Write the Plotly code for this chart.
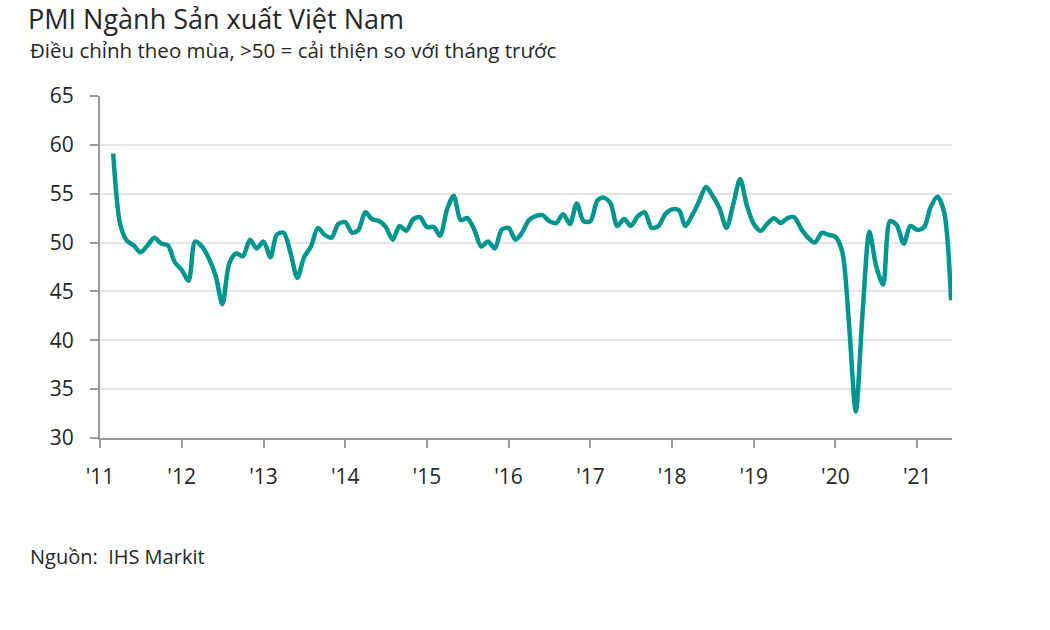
import plotly.graph_objects as go
import pandas as pd

# Monthly PMI values, Mar 2011 - Jun 2021
pmi_2011 = [59.1, 51.9, 50.2, 49.7, 49.0, 49.7, 50.5, 49.9, 49.7, 48.0]  # Mar-Dec
pmi_2012 = [47.2, 46.1, 50.1, 49.6, 48.4, 46.6, 43.7, 47.9, 48.9, 48.6, 50.3, 49.4]
pmi_2013 = [50.1, 48.5, 50.8, 51.0, 49.0, 46.4, 48.5, 49.6, 51.5, 50.8, 50.5, 51.9]
pmi_2014 = [52.1, 51.0, 51.3, 53.1, 52.4, 52.2, 51.6, 50.3, 51.7, 51.2, 52.4, 52.6]
pmi_2015 = [51.6, 51.6, 50.7, 53.4, 54.8, 52.3, 52.5, 51.3, 49.6, 50.1, 49.4, 51.3]
pmi_2016 = [51.5, 50.3, 51.0, 52.3, 52.7, 52.8, 52.2, 52.0, 52.9, 51.9, 54.0, 52.2]
pmi_2017 = [52.2, 54.3, 54.6, 54.0, 51.7, 52.4, 51.7, 52.7, 53.1, 51.5, 51.7, 52.9]
pmi_2018 = [53.4, 53.3, 51.7, 52.8, 54.2, 55.7, 54.8, 53.5, 51.5, 53.9, 56.5, 53.8]
pmi_2019 = [51.9, 51.2, 51.9, 52.5, 52.0, 52.5, 52.6, 51.4, 50.5, 50.0, 51.0, 50.8]
pmi_2020 = [50.6, 49.0, 41.9, 32.7, 42.7, 51.1, 47.6, 45.7, 52.2, 51.8, 49.9, 51.7]
pmi_2021 = [51.3, 51.6, 53.6, 54.7, 53.1, 44.1]  # Jan-Jun

values = (pmi_2011 + pmi_2012 + pmi_2013 + pmi_2014 + pmi_2015 + pmi_2016 +
          pmi_2017 + pmi_2018 + pmi_2019 + pmi_2020 + pmi_2021)
dates = pd.date_range("2011-03-01", periods=len(values), freq="MS")

tick_years = list(range(2011, 2022))
tick_labels = ["'11", "'12", "'13", "'14", "'15", "'16", "'17", "'18", "'19", "'20", "'21"]
y_ticks = [30, 35, 40, 45, 50, 55, 60, 65]

FONT = "Open Sans"
TXT = "#262626"

fig = go.Figure()
fig.add_trace(go.Scatter(
    x=dates, y=values, mode="lines",
    line=dict(color="#00968f", width=4.5, shape="spline", smoothing=0.8),
    hoverinfo="x+y", showlegend=False,
))

fig.update_layout(
    width=1050, height=630,
    margin=dict(l=100, r=98, t=96, b=192),
    paper_bgcolor="white", plot_bgcolor="white",
    font=dict(family=FONT, color=TXT),
    title=dict(text="PMI Ngành Sản xuất Việt Nam", x=28/1050, xanchor="left",
               y=1 - 20/630, yanchor="middle", yref="container",
               font=dict(size=27, color=TXT, family=FONT)),
    xaxis=dict(
        type="date",
        range=["2011-01-01", "2021-06-05"],
        tickvals=[f"{y}-01-01" for y in tick_years],
        ticktext=tick_labels,
        showgrid=False, zeroline=False,
        showline=True, linecolor="#9a9a9a", linewidth=2,
        ticks="outside", ticklen=8, tickwidth=1.5, tickcolor="#9a9a9a",
        ticklabelstandoff=11,
        tickfont=dict(size=21, color=TXT, family=FONT),
        fixedrange=True,
    ),
    yaxis=dict(
        range=[30, 65],
        tickvals=y_ticks,
        showgrid=True, gridcolor="#e4e4e4", gridwidth=2,
        zeroline=False,
        showline=True, linecolor="#9a9a9a", linewidth=2,
        ticks="outside", ticklen=8, tickwidth=1.5, tickcolor="#9a9a9a",
        ticklabelstandoff=12,
        tickfont=dict(size=21, color=TXT, family=FONT),
        fixedrange=True,
    ),
    annotations=[
        dict(text="Điều chỉnh theo mùa, >50 = cải thiện so với tháng trước",
             xref="paper", yref="paper", x=(28-100)/852, y=(438-50)/342,
             xanchor="left", yanchor="middle", showarrow=False,
             font=dict(size=20.5, color=TXT, family=FONT)),
        dict(text="Nguồn:  IHS Markit",
             xref="paper", yref="paper", x=(28-100)/852, y=(438-556)/342,
             xanchor="left", yanchor="middle", showarrow=False,
             font=dict(size=20, color=TXT, family=FONT)),
    ],
)

fig.write_html("out.html")
